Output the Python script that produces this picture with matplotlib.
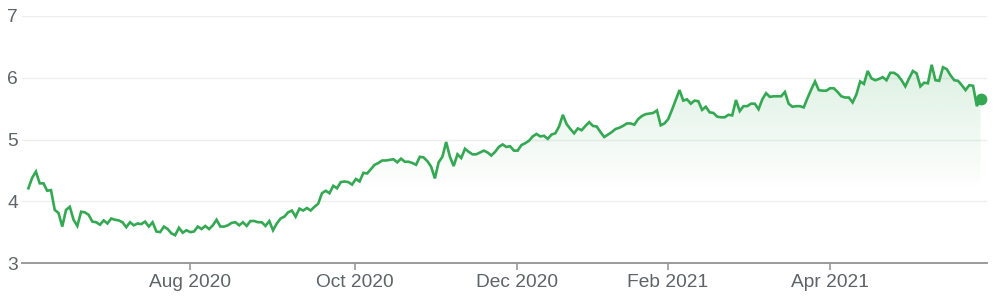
import numpy as np
import matplotlib
matplotlib.use("Agg")
from matplotlib import pyplot as plt

# daily closes, Jun 2020 - May 2021
prices = [
    4.21, 4.38, 4.48, 4.29, 4.29, 4.17, 4.18, 3.86, 3.81, 3.59,
    3.86, 3.91, 3.70, 3.60, 3.83, 3.82, 3.78, 3.67, 3.66, 3.62,
    3.69, 3.64, 3.72, 3.70, 3.69, 3.66, 3.58, 3.66, 3.61, 3.64,
    3.63, 3.67, 3.59, 3.66, 3.51, 3.50, 3.59, 3.55, 3.48, 3.45,
    3.57, 3.49, 3.53, 3.50, 3.51, 3.59, 3.55, 3.60, 3.55, 3.61,
    3.70, 3.59, 3.59, 3.61, 3.65, 3.66, 3.61, 3.66, 3.60, 3.68,
    3.68, 3.66, 3.66, 3.60, 3.68, 3.53, 3.64, 3.72, 3.75, 3.82,
    3.85, 3.75, 3.88, 3.85, 3.89, 3.85, 3.91, 3.96, 4.13, 4.17,
    4.13,
    4.25, 4.21, 4.31, 4.32, 4.31, 4.27, 4.36, 4.32, 4.46, 4.45,
    4.52, 4.59, 4.62, 4.66, 4.66, 4.67, 4.68, 4.63, 4.69, 4.64,
    4.64, 4.62, 4.59, 4.72, 4.71, 4.65, 4.56, 4.37, 4.63, 4.72,
    4.96, 4.72, 4.57, 4.76, 4.70, 4.85, 4.80, 4.76, 4.76, 4.79,
    4.82, 4.79, 4.74, 4.80, 4.88, 4.92, 4.88, 4.89, 4.82, 4.82,
    4.91, 4.94, 4.98, 5.05, 5.09, 5.05, 5.06, 5.01, 5.08, 5.10,
    5.21, 5.40, 5.25, 5.17, 5.10, 5.18, 5.15, 5.22, 5.28, 5.22,
    5.21, 5.12, 5.04, 5.08, 5.12, 5.17, 5.19, 5.22, 5.26, 5.26,
    5.24, 5.33, 5.38, 5.41, 5.42, 5.43, 5.47,
    5.23, 5.26, 5.33, 5.48, 5.64, 5.80, 5.63, 5.65, 5.58, 5.63,
    5.62, 5.48, 5.53, 5.44, 5.43, 5.37, 5.36, 5.36, 5.40, 5.39,
    5.64, 5.46, 5.54, 5.54, 5.58, 5.58, 5.49, 5.65, 5.75, 5.69,
    5.70, 5.70, 5.70, 5.77, 5.58, 5.53, 5.54, 5.54, 5.52, 5.67,
    5.81, 5.94, 5.80, 5.79, 5.79, 5.83, 5.83, 5.77, 5.70, 5.68,
    5.68, 5.60, 5.73, 5.94, 5.90, 6.11, 5.99, 5.96, 5.98, 6.01,
    5.96, 6.08, 6.08, 6.04, 5.96, 5.86, 5.99, 6.11, 6.07, 5.86,
    5.92, 5.91, 6.21, 5.96, 5.95, 6.17, 6.14, 6.04, 5.96, 5.95,
    5.88, 5.80, 5.88, 5.87, 5.54, 5.66,
]
# trading-day index of each month label
tick_pos = [43, 86.8, 129.8, 169.9, 213]
tick_labels = ["Aug 2020", "Oct 2020", "Dec 2020", "Feb 2021", "Apr 2021"]
y_ticks = [3, 4, 5, 6, 7]

green = "#34a853"
grey_text = "#5f6368"

plt.rcParams['font.family'] = ['Liberation Sans', 'DejaVu Sans']

fig = plt.figure(figsize=(9.95, 3.0), dpi=100)
ax = fig.add_axes([22 / 995, 1 - 263 / 300, 965 / 995, 247 / 300])

x = np.arange(len(prices))
y = np.array(prices)

# gradient fill under the line
poly = ax.fill_between(x, y, 3, color="none", lw=0)
grad = np.zeros((256, 1, 4))
grad[:, :, 0] = 52 / 255
grad[:, :, 1] = 168 / 255
grad[:, :, 2] = 83 / 255
grad[:, 0, 3] = np.clip(np.linspace(0.17, -0.1, 256), 0, None)
img = ax.imshow(grad, extent=[x[0], x[-1], 3, y.max()], aspect="auto",
                origin="upper", zorder=1)
img.set_clip_path(poly.get_paths()[0], transform=ax.transData)

ax.plot(x, y, color=green, lw=1.9, zorder=3, solid_joinstyle="miter")
ax.plot(x[-1], y[-1], "o", color=green, ms=7.5, zorder=4)

ax.set_xlim(-1.7, 254.7)
ax.set_ylim(3, 7)

ax.set_yticks(y_ticks)
ax.set_yticklabels([str(t) for t in y_ticks])
ax.set_xticks(tick_pos)
ax.set_xticklabels(tick_labels)

ax.grid(axis="y", color="#efefef", lw=1)
ax.set_axisbelow(True)

for s in ["top", "right", "left"]:
    ax.spines[s].set_visible(False)
ax.spines["bottom"].set_color("#9a9a9a")
ax.spines["bottom"].set_linewidth(1.4)

ax.tick_params(axis="y", length=0, pad=3, labelsize=13.8, labelcolor=grey_text)
ax.tick_params(axis="x", length=5, width=1.2, color="#9a9a9a", pad=3,
               labelsize=13.8, labelcolor=grey_text)

fig.savefig("out.png", dpi=100)
